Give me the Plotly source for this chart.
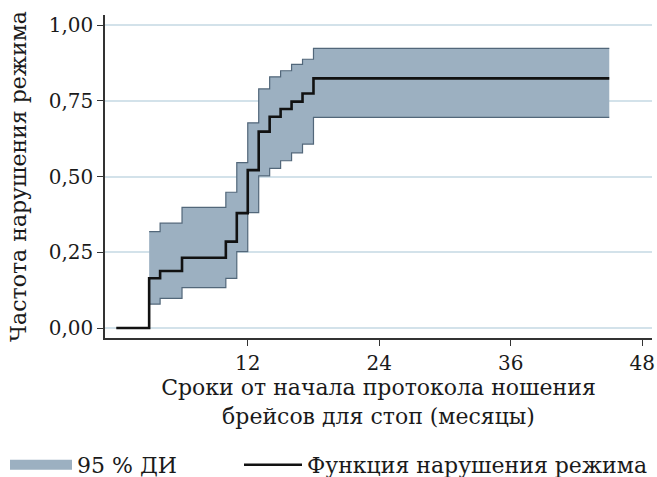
import plotly.graph_objects as go

# Data
months = [0, 3, 4, 6, 10, 11, 12, 13, 14, 15, 16, 17, 18, 45]
failure = [0.0, 0.164, 0.188, 0.232, 0.285, 0.379, 0.521, 0.648, 0.697, 0.723, 0.747, 0.774, 0.824, 0.824]
ci_months = [3, 4, 6, 10, 11, 12, 13, 14, 15, 16, 17, 18, 45]
ci_upper = [0.318, 0.346, 0.398, 0.448, 0.546, 0.677, 0.789, 0.829, 0.849, 0.870, 0.887, 0.923, 0.923]
ci_lower = [0.079, 0.098, 0.133, 0.164, 0.252, 0.381, 0.502, 0.527, 0.552, 0.578, 0.607, 0.695, 0.695]
y_ticks = [0, 0.25, 0.5, 0.75, 1.0]
y_tick_labels = ["0,00", "0,25", "0,50", "0,75", "1,00"]
x_ticks = [12, 24, 36, 48]
x_tick_labels = ["12", "24", "36", "48"]

band_name = "95 % ДИ"
line_name = "Функция нарушения режима"
x_title = "Сроки от начала протокола ношения<br>брейсов для стоп (месяцы)"
y_title = "Частота нарушения режима"

FONT = "DejaVu Serif"
BAND = "#9cb0c1"
EDGE = "#52677a"
W, H = 657, 477

fig = go.Figure()

# legend-only swatch for the band
fig.add_trace(go.Scatter(x=[None], y=[None], mode="lines", name=band_name,
                         line=dict(color=BAND, width=14), showlegend=True,
                         legend="legend"))

fig.add_trace(go.Scatter(x=ci_months, y=ci_lower, mode="lines", line_shape="hv",
                         line=dict(color=EDGE, width=1.2), showlegend=False,
                         hoverinfo="skip"))
fig.add_trace(go.Scatter(x=ci_months, y=ci_upper, mode="lines", line_shape="hv",
                         line=dict(color=EDGE, width=1.2), fill="tonexty",
                         fillcolor=BAND, showlegend=False, hoverinfo="skip"))

fig.add_trace(go.Scatter(x=months, y=failure, mode="lines", line_shape="hv",
                         name=line_name, line=dict(color="#111111", width=2.6),
                         legend="legend2"))

legend_common = dict(orientation="h", xref="container", yref="container",
                     xanchor="left", y=(H - 465) / H, yanchor="middle",
                     font=dict(family=FONT, size=22, color="#1a1a1a"),
                     bgcolor="rgba(0,0,0,0)")

fig.update_layout(
    width=W, height=H,
    margin=dict(l=105, r=5, t=15, b=139, autoexpand=False),
    paper_bgcolor="white", plot_bgcolor="white",
    font=dict(family=FONT, size=20, color="#1a1a1a"),
    legend=dict(x=5 / W, itemwidth=62, **legend_common),
    legend2=dict(x=239 / W, itemwidth=58, **legend_common),
)

fig.update_xaxes(range=[-1.03, 48.9], tickvals=x_ticks, ticktext=x_tick_labels,
                 showline=True, linecolor="#333333", linewidth=1.5,
                 ticks="outside", ticklen=6, tickcolor="#333333", tickwidth=1.2,
                 showgrid=False, zeroline=False,
                 title=dict(text=x_title, standoff=6,
                            font=dict(family=FONT, size=22)))
fig.update_yaxes(range=[-0.033, 1.033], tickvals=y_ticks, ticktext=y_tick_labels,
                 showline=True, linecolor="#333333", linewidth=1.5,
                 ticks="outside", ticklen=6, tickcolor="#333333", tickwidth=1.2,
                 showgrid=True, gridcolor="#d3e2ea", gridwidth=1.5,
                 zeroline=False,
                 title=dict(text=y_title, standoff=16,
                            font=dict(family=FONT, size=22)))

fig.write_html("out.html",
               config={"displayModeBar": False},
               post_script="document.body.style.margin='0';"
                           "document.body.style.overflow='hidden';")
